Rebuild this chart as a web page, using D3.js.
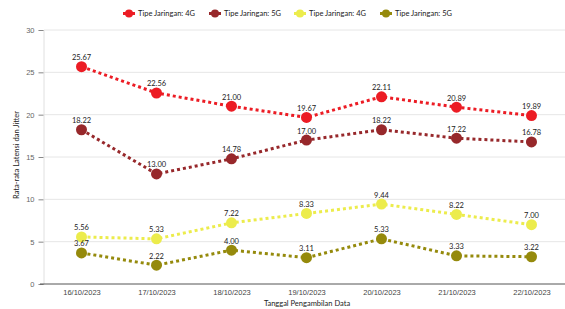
<!DOCTYPE html>
<html>
<head>
<meta charset="utf-8">
<script src="https://cdn.jsdelivr.net/npm/d3@7"></script>
<style>
  body { margin: 0; background: #fff; }
  svg { font-family: "Lato", "Open Sans", sans-serif; }
</style>
</head>
<body>
<div id="chart"></div>
<script>
const dates = ["16/10/2023", "17/10/2023", "18/10/2023", "19/10/2023", "20/10/2023", "21/10/2023", "22/10/2023"];
const latensi4G = [25.67, 22.56, 21.00, 19.67, 22.11, 20.89, 19.89];
const latensi5G = [18.22, 13.00, 14.78, 17.00, 18.22, 17.22, 16.78];
const jitter4G = [5.56, 5.33, 7.22, 8.33, 9.44, 8.22, 7.00];
const jitter5G = [3.67, 2.22, 4.00, 3.11, 5.33, 3.33, 3.22];
const seriesNames = ["Tipe Jaringan: 4G", "Tipe Jaringan: 5G", "Tipe Jaringan: 4G", "Tipe Jaringan: 5G"];
const seriesColors = ["#ec1c24", "#97282b", "#ecec4c", "#958a0c"];
const yTicks = [0, 5, 10, 15, 20, 25, 30];

const width = 565, height = 309;
const margin = { top: 30, right: -4, bottom: 25, left: 44 };

const series = [latensi4G, latensi5G, jitter4G, jitter5G].map((vals, i) => ({
  name: seriesNames[i],
  color: seriesColors[i],
  values: vals.map((v, j) => ({ date: dates[j], value: v }))
}));

const svg = d3.select("#chart").append("svg")
  .attr("width", width)
  .attr("height", height);

const x = d3.scalePoint()
  .domain(dates)
  .range([margin.left, width - margin.right])
  .padding(0.5);

const y = d3.scaleLinear()
  .domain([0, 30])
  .range([height - margin.bottom, margin.top]);

// grid
svg.append("g")
  .selectAll("line")
  .data(yTicks.filter(t => t > 0))
  .join("line")
  .attr("x1", margin.left)
  .attr("x2", width)
  .attr("y1", d => y(d))
  .attr("y2", d => y(d))
  .attr("stroke", "#e6e6e6")
  .attr("stroke-width", 1);

// y axis
const yAxis = svg.append("g")
  .attr("transform", `translate(${margin.left - 0.5},0)`)
  .call(d3.axisLeft(y).tickValues(yTicks).tickSize(5).tickPadding(4));
yAxis.select(".domain").attr("stroke", "#e0e0e0");
yAxis.selectAll(".tick line").attr("stroke", "#888");
yAxis.selectAll("text").attr("fill", "#666").style("font-size", "7.5px");

// x axis
const xAxis = svg.append("g")
  .attr("transform", `translate(0,${y(0)})`)
  .call(d3.axisBottom(x).tickSize(0).tickPadding(6));
xAxis.select(".domain").remove();
xAxis.selectAll("text").attr("fill", "#444").style("font-size", "7.5px");
svg.append("line")
  .attr("x1", 40).attr("x2", width)
  .attr("y1", y(0)).attr("y2", y(0))
  .attr("stroke", "#555").attr("stroke-width", 1);

// axis titles
svg.append("text")
  .attr("x", 307)
  .attr("y", 306)
  .attr("text-anchor", "middle")
  .style("font-size", "7.5px")
  .attr("fill", "#222")
  .text("Tanggal Pengambilan Data");

svg.append("text")
  .attr("transform", `translate(19,${(y(0) + y(30)) / 2 - 2}) rotate(-90)`)
  .attr("text-anchor", "middle")
  .style("font-size", "7.5px")
  .attr("fill", "#222")
  .text("Rata-rata Latensi dan Jitter");

// lines
const line = d3.line()
  .x(d => x(d.date))
  .y(d => y(d.value));

const g = svg.append("g");
series.forEach(s => {
  g.append("path")
    .datum(s.values)
    .attr("d", line)
    .attr("fill", "none")
    .attr("stroke", s.color)
    .attr("stroke-width", 3)
    .attr("stroke-dasharray", "3,3");
});

series.forEach(s => {
  g.selectAll(null)
    .data(s.values)
    .join("circle")
    .attr("cx", d => x(d.date))
    .attr("cy", d => y(d.value))
    .attr("r", 5.5)
    .attr("fill", s.color);

  g.selectAll(null)
    .data(s.values)
    .join("text")
    .attr("x", d => x(d.date))
    .attr("y", d => y(d.value) - 6.5)
    .attr("text-anchor", "middle")
    .style("font-size", "7.5px")
    .attr("fill", "#222")
    .text(d => d.value.toFixed(2));
});

// legend
const legendX = [129, 215, 300, 386];
const legend = svg.append("g");
series.forEach((s, i) => {
  const lg = legend.append("g").attr("transform", `translate(${legendX[i]},13.5)`);
  lg.append("line")
    .attr("x1", -6).attr("x2", 6)
    .attr("stroke", s.color).attr("stroke-width", 3);
  lg.append("circle").attr("r", 4).attr("fill", s.color);
  lg.append("text")
    .attr("x", 9)
    .attr("dy", "0.35em")
    .style("font-size", "7.5px")
    .attr("fill", "#222")
    .text(s.name);
});
</script>
</body>
</html>
